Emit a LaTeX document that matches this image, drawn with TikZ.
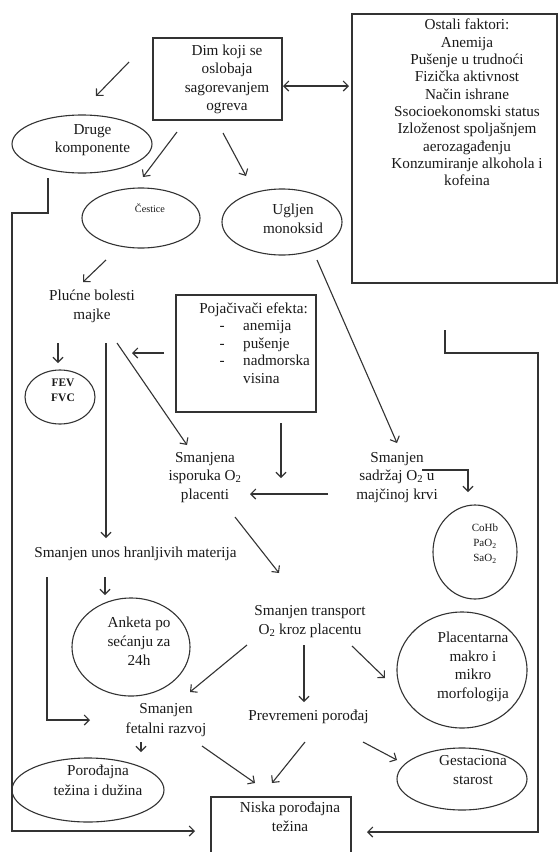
\documentclass[tikz,border=0pt]{standalone}
\usepackage{fontspec}
\setmainfont{Liberation Serif}
\usetikzlibrary{arrows.meta,shapes.geometric}
\definecolor{ln}{HTML}{333333}
\definecolor{tx}{HTML}{1a1a1a}
\tikzset{
  arr/.style={draw=ln, line width=1.1pt, -{Straight Barb[length=5pt,width=10pt]}},
  darr/.style={draw=ln, line width=1.1pt, {Straight Barb[length=5pt,width=10pt]}-{Straight Barb[length=5pt,width=10pt]}},
  box/.style={draw=ln, line width=1.1pt, rectangle, inner sep=0pt},
  ell/.style={draw=ln, line width=1.1pt, ellipse, inner sep=0pt},
  txt/.style={text=tx, inner sep=0pt, align=center, execute at begin node=\strut, execute at end node=\strut},
  big/.style={font=\fontsize{15.2}{#1}\selectfont},
  big/.default=18.5
}
\begin{document}
\begin{tikzpicture}[x=1pt,y=-1pt]
\useasboundingbox (0,0) rectangle (559,852);
\fill[white] (0,0) rectangle (559,852);
\clip (0,0) rectangle (559,852);

% ---------- boxes and ellipses ----------
\node[box, minimum width=129pt, minimum height=82pt] (dim) at (217.5,79) {};
\node[txt,big=18.3] (dimt) at (227,80.5) {Dim koji se\\oslobaja\\sagorevanjem\\ogreva};

\node[box, minimum width=205pt, minimum height=269pt] (ost) at (454.5,148.5) {};
\node[txt,big=17.33] (ostt) at (467,105) {Ostali faktori:\\Anemija\\Pušenje u trudnoći\\Fizička aktivnost\\Način ishrane\\Ssocioekonomski status\\Izloženost spoljašnjem\\aerozagađenju\\Konzumiranje alkohola i\\kofeina};

\node[ell, minimum width=140pt, minimum height=58pt] (druge) at (82,144) {};
\node[txt,big=18] (druget) at (92.5,141) {Druge\\komponente};

\node[ell, minimum width=118pt, minimum height=60pt] (cest) at (141,218) {};
\node[txt, font=\fontsize{10.2}{12}\selectfont] (cestt) at (150,210) {Čestice};

\node[ell, minimum width=120pt, minimum height=66pt] (ugl) at (282,222) {};
\node[txt,big=19] (uglt) at (293,221.5) {Ugljen\\monoksid};

\node[txt,big=19] (pluc) at (92,307.5) {Plućne bolesti\\majke};

\node[ell, minimum width=70pt, minimum height=54pt] (fev) at (60,397) {};
\node[txt, font=\fontsize{11.5}{15}\selectfont\bfseries] (fevt) at (63,392.5) {FEV\\FVC};

\node[box, minimum width=140pt, minimum height=117pt] (poj) at (246,353.5) {};
\node[txt,big=17.75] (pojt) at (253.5,310) {Pojačivači efekta:};
\node[txt,big=17.75, align=left, anchor=west] (pojl) at (219.5,354.5) {\makebox[23.5pt][l]{-}anemija\\\makebox[23.5pt][l]{-}pušenje\\\makebox[23.5pt][l]{-}nadmorska\\\makebox[23.5pt][l]{}visina};

\node[txt,big=18.5] (isp) at (205,478.5) {Smanjena\\isporuka O\textsubscript{2}\\placenti};
\node[txt,big=18.5] (sad) at (397,478.5) {Smanjen\\sadržaj O\textsubscript{2} u\\majčinoj krvi};

\node[ell, minimum width=84pt, minimum height=94pt] (coh) at (475,552) {};
\node[txt, font=\fontsize{11}{15}\selectfont] (coht) at (485,545) {CoHb\\PaO\textsubscript{2}\\SaO\textsubscript{2}};

\node[txt,big] (unos) at (135.5,554) {Smanjen unos hranljivih materija};

\node[ell, minimum width=118pt, minimum height=98pt] (ank) at (131,647) {};
\node[txt,big=19] (ankt) at (139,644) {Anketa po\\sećanju za\\24h};

\node[txt,big=19] (trans) at (310,622.5) {Smanjen transport\\O\textsubscript{2} kroz placentu};

\node[ell, minimum width=130pt, minimum height=116pt] (plac) at (462,670) {};
\node[txt,big=18.7] (plact) at (473,668) {Placentarna\\makro i\\mikro\\morfologija};

\node[txt,big=20] (fet) at (166,721) {Smanjen\\fetalni razvoj};
\node[txt,big] (prev) at (308.5,717) {Prevremeni porođaj};

\node[ell, minimum width=152pt, minimum height=64pt] (por) at (88,790) {};
\node[txt,big=19.5] (port) at (98,783) {Porođajna\\težina i dužina};

\node[ell, minimum width=130pt, minimum height=62pt] (gest) at (462,779) {};
\node[txt,big=19] (gestt) at (473,772.5) {Gestaciona\\starost};

\node[box, minimum width=140pt, minimum height=80pt] (nis) at (281,837) {};
\node[txt,big=19] (nist) at (290,819.5) {Niska porođajna\\težina};

% ---------- connector end points ----------
\coordinate (freeS) at (129,62);   \coordinate (freeE) at (96,96);
\coordinate (dimR) at (283,86);    \coordinate (ostL) at (349,86);
\coordinate (dimC) at (177,132);   \coordinate (cestT) at (143,177);
\coordinate (dimU) at (223,133);   \coordinate (uglT) at (246,176);
\coordinate (cestB) at (106,260);  \coordinate (plucT) at (83,282);
\coordinate (plucF) at (58,343);   \coordinate (fevT) at (58,363);
\coordinate (pojL) at (164,353);   \coordinate (plucR) at (132,353);
\coordinate (plucD) at (117,343);  \coordinate (ispT) at (187,445);
\coordinate (plucV) at (106,343);  \coordinate (unosT) at (106,538);
\coordinate (uglB) at (317,260);   \coordinate (sadT) at (397,443);
\coordinate (pojB) at (281,423);   \coordinate (ispU) at (281,478);
\coordinate (sadL) at (328,494);   \coordinate (ispR) at (250,494);
\coordinate (sadR) at (422,470);   \coordinate (sadK) at (468,470);  \coordinate (cohT) at (468,492);
\coordinate (ispB) at (235,517);   \coordinate (transT) at (279,573);
\coordinate (unosB) at (105,577);  \coordinate (ankT) at (105,595);
\coordinate (unosL) at (47,577);   \coordinate (unosK) at (47,720);  \coordinate (fetL) at (90,720);
\coordinate (transL) at (247,645); \coordinate (fetT) at (190,692);
\coordinate (transB) at (304,645); \coordinate (prevT) at (304,702);
\coordinate (transR) at (352,646); \coordinate (placL) at (385,678);
\coordinate (fetB) at (141,742);   \coordinate (porT) at (141,752);
\coordinate (fetR) at (202,746);   \coordinate (nisL) at (255,783);
\coordinate (prevL) at (305,742);  \coordinate (nisR) at (272,783);
\coordinate (prevR) at (363,742);  \coordinate (gestL) at (397,760);
\coordinate (drugeB) at (48,178);  \coordinate (lf1) at (48,213); \coordinate (lf2) at (12,213); \coordinate (lf3) at (12,831); \coordinate (nisW) at (195,831);
\coordinate (rf0) at (445,330);    \coordinate (rf1) at (445,353); \coordinate (rf2) at (538,353); \coordinate (rf3) at (538,832); \coordinate (nisE) at (367,832);

% ---------- connectors ----------
\draw[arr] (freeS) -- (freeE);
\draw[darr] (dimR) -- (ostL);
\draw[arr] (dimC) -- (cestT);
\draw[arr] (dimU) -- (uglT);
\draw[arr] (cestB) -- (plucT);
\draw[arr] (plucF) -- (fevT);
\draw[arr] (pojL) -- (plucR);
\draw[arr] (plucD) -- (ispT);
\draw[arr] (plucV) -- (unosT);
\draw[arr] (uglB) -- (sadT);
\draw[arr] (pojB) -- (ispU);
\draw[arr] (sadL) -- (ispR);
\draw[arr] (sadR) -- (sadK) -- (cohT);
\draw[arr] (ispB) -- (transT);
\draw[arr] (unosB) -- (ankT);
\draw[arr] (unosL) -- (unosK) -- (fetL);
\draw[arr] (transL) -- (fetT);
\draw[arr] (transB) -- (prevT);
\draw[arr] (transR) -- (placL);
\draw[arr] (fetB) -- (porT);
\draw[arr] (fetR) -- (nisL);
\draw[arr] (prevL) -- (nisR);
\draw[arr] (prevR) -- (gestL);
\draw[arr] (drugeB) -- (lf1) -- (lf2) -- (lf3) -- (nisW);
\draw[arr] (rf0) -- (rf1) -- (rf2) -- (rf3) -- (nisE);
\end{tikzpicture}
\end{document}
